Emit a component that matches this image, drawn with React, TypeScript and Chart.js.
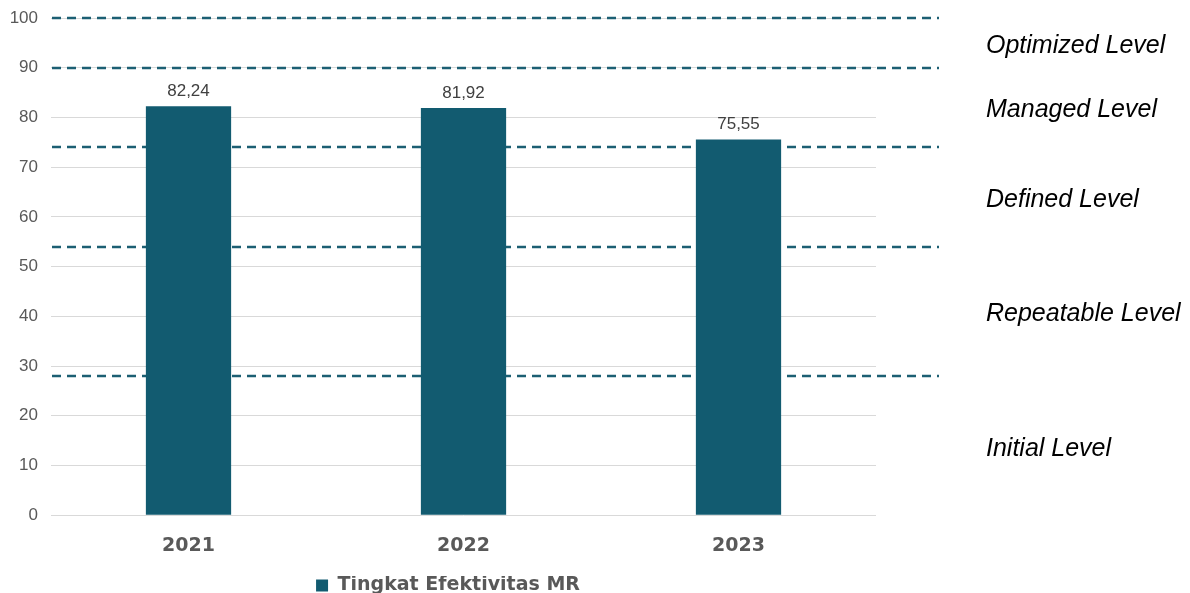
import React, { useEffect, useRef } from "react";
import { Chart, registerables } from "chart.js";

Chart.register(...registerables);

const categories = ["2021", "2022", "2023"];
const seriesName = "Tingkat Efektivitas MR";
const values = [82.24, 81.92, 75.55];
const levelBounds = [0, 28, 54, 74, 90, 100];
const levelNames = ["Initial Level", "Repeatable Level", "Defined Level", "Managed Level", "Optimized Level"];
const dashedLevels = [28, 54, 74, 90, 100];

const BAR = "#125b70";
const DASH = "#1c5f73";

const levelPlugin = {
  id: "levels",
  afterLayout(chart: any) {
    if (chart.legend) {
      chart.legend.left += 20;
    }
  },
  beforeDatasetsDraw(chart: any) {
    const { ctx, chartArea, scales } = chart;
    ctx.save();
    ctx.strokeStyle = DASH;
    ctx.lineWidth = 2.5;
    ctx.setLineDash([9, 6]);
    dashedLevels.forEach((v) => {
      const y = Math.round(scales.y.getPixelForValue(v));
      ctx.beginPath();
      ctx.moveTo(chartArea.left + 1, y);
      ctx.lineTo(chartArea.right + 63, y);
      ctx.stroke();
    });
    ctx.restore();
  },
  afterDraw(chart: any) {
    const { ctx, chartArea, scales } = chart;
    ctx.save();
    ctx.fillStyle = "#000000";
    ctx.font = "italic 25px 'Liberation Sans', Arial, sans-serif";
    ctx.textAlign = "left";
    ctx.textBaseline = "middle";
    levelNames.forEach((name, i) => {
      const mid = (levelBounds[i] + levelBounds[i + 1]) / 2;
      const y = scales.y.getPixelForValue(mid);
      ctx.fillText(name, chartArea.right + 110, y + 3);
    });
    ctx.restore();
  },
  afterDatasetsDraw(chart: any) {
    const { ctx } = chart;
    const meta = chart.getDatasetMeta(0);
    ctx.save();
    ctx.fillStyle = "#404040";
    ctx.font = "17px 'Liberation Sans', Arial, sans-serif";
    ctx.textAlign = "center";
    ctx.textBaseline = "middle";
    meta.data.forEach((bar: any, i: number) => {
      const txt = values[i].toFixed(2).replace(".", ",");
      ctx.fillText(txt, bar.x, bar.y - 15);
    });
    ctx.restore();
  },
};

export default function App() {
  const ref = useRef<HTMLCanvasElement>(null);
  useEffect(() => {
    document.body.style.margin = "0";
    const chart = new Chart(ref.current as HTMLCanvasElement, {
      type: "bar",
      data: {
        labels: categories,
        datasets: [
          {
            label: seriesName,
            data: values,
            backgroundColor: BAR,
            borderWidth: 0,
            barPercentage: 0.31,
            categoryPercentage: 1,
          },
        ],
      },
      options: {
        animation: false,
        responsive: false,
        maintainAspectRatio: false,
        layout: { padding: { left: 0, right: 314, top: 18, bottom: -12 } },
        plugins: {
          tooltip: { enabled: false },
          legend: {
            position: "bottom",
            labels: {
              boxWidth: 12,
              boxHeight: 12,
              padding: 0,
              color: "#595959",
              font: { family: "'DejaVu Sans', Verdana, sans-serif", size: 19, weight: "bold" },
            },
          },
        },
        scales: {
          x: {
            grid: { display: false, drawTicks: false },
            border: { display: false },
            ticks: {
              padding: 19,
              color: "#595959",
              font: { family: "'DejaVu Sans', Verdana, sans-serif", size: 19, weight: "bold" },
            },
          },
          y: {
            min: 0,
            max: 100,
            afterFit(scale: any) {
              scale.width = 51;
              scale.paddingTop = 0;
            },
            ticks: {
              stepSize: 10,
              padding: 13,
              color: "#595959",
              font: { family: "'Liberation Sans', Arial, sans-serif", size: 17 },
            },
            grid: { color: "#d9d9d9", lineWidth: 1, drawTicks: false },
            border: { display: false },
          },
        },
      },
      plugins: [levelPlugin],
    } as any);
    return () => chart.destroy();
  }, []);
  return (
    <div style={{ width: 1190, height: 593, background: "#fff" }}>
      <canvas ref={ref} width={1190} height={593} style={{ display: "block" }} />
    </div>
  );
}
